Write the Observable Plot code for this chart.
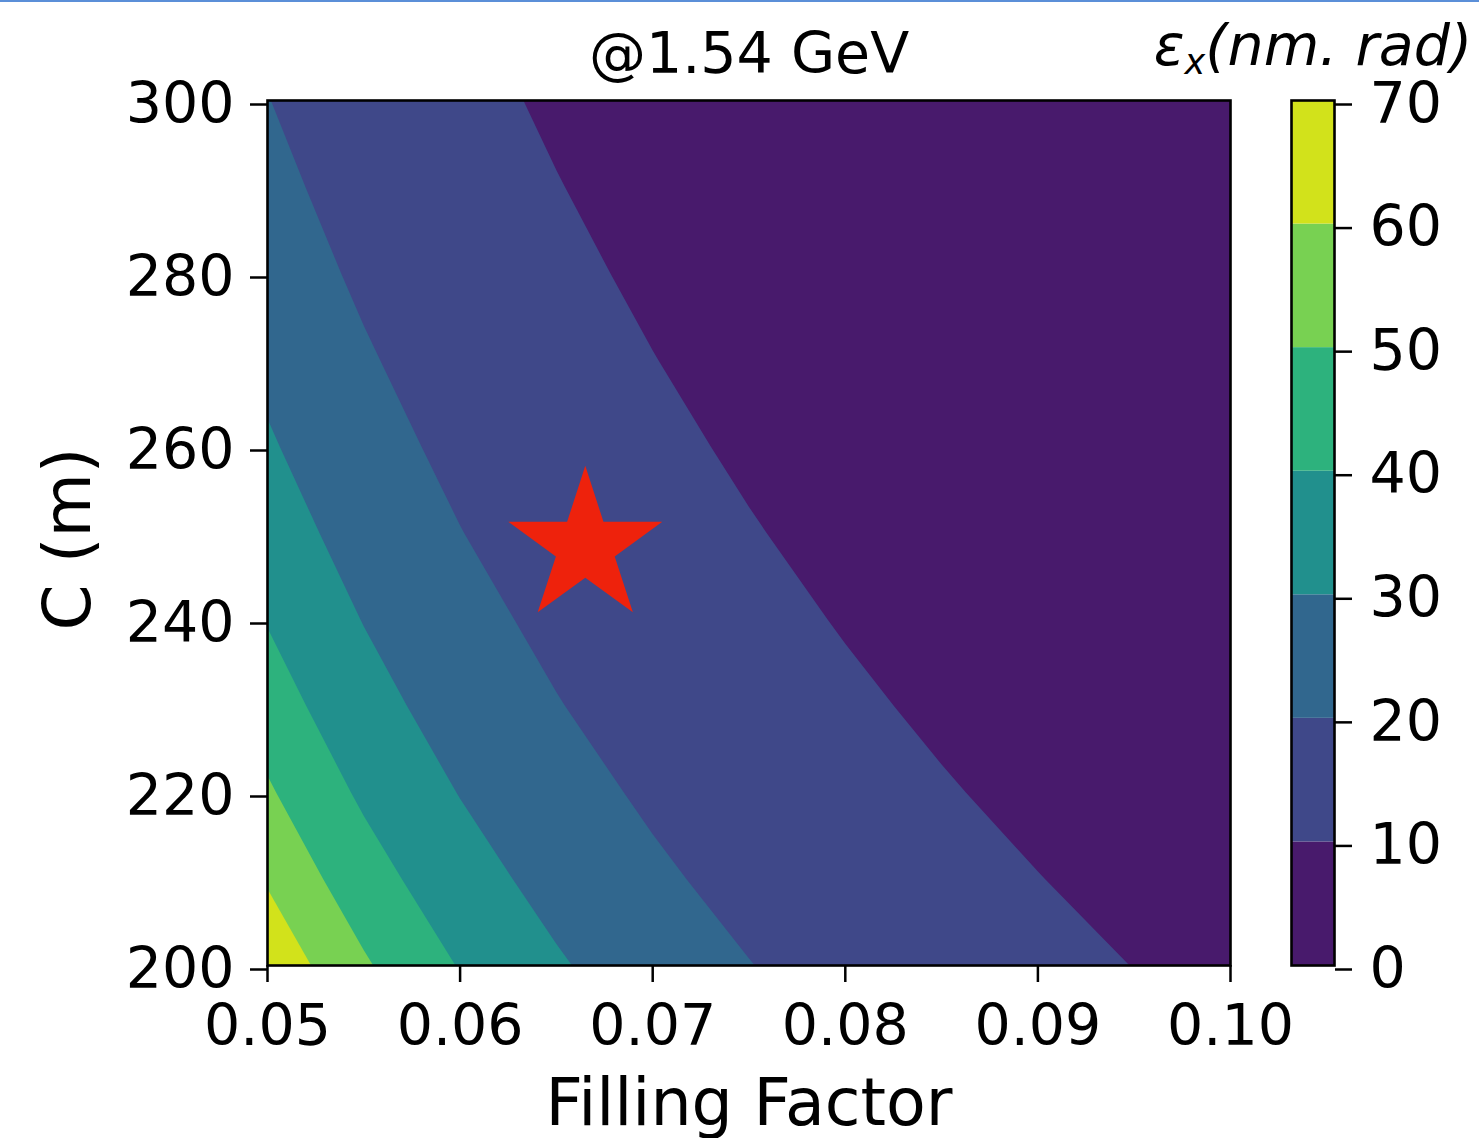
<!DOCTYPE html>
<html>
<head>
<meta charset="utf-8">
<script src="https://cdn.jsdelivr.net/npm/d3@7"></script>
<script src="https://cdn.jsdelivr.net/npm/@observablehq/plot@0.6"></script>
<style>
  html, body { margin: 0; padding: 0; background: #fff; }
  #root { position: relative; width: 1479px; height: 1138px; overflow: hidden; background: #fff; }
  #main { position: absolute; left: 0; top: 0; }
  #cbar { position: absolute; left: 1140px; top: 0; }
  #topline { position: absolute; left: 0; top: 0; width: 1479px; height: 2px; background: #5b8fd8; }
  #cblabel { position: absolute; top: 22px; left: 1313px; transform: translateX(-50%);
             font: italic 57px "DejaVu Sans"; line-height: 46px; white-space: nowrap; color: #000; }
  #cblabel sub { font-size: 35px; line-height: 0; vertical-align: -9px; }
  svg { overflow: visible; }
</style>
</head>
<body>
<div id="root">
  <div id="main"></div>
  <div id="cbar"></div>
  <div id="cblabel">ε<sub>x</sub>(nm. rad)</div>
  <div id="topline"></div>
</div>
<script>
// Filling factor samples (x) and circumference samples (y, metres)
const fillingFactor = [0.050, 0.055, 0.060, 0.065, 0.070, 0.075, 0.080, 0.085, 0.090, 0.095, 0.100];
const circumference = [200, 210, 220, 230, 240, 250, 260, 270, 280, 290, 300];

const emittance = [
  [68.3, 51.3, 39.5, 31.1, 24.9, 20.24, 16.67, 13.90, 11.71, 9.92, 8.54],  // C = 200
  [59.0, 44.3, 34.2, 26.9, 21.5, 17.48, 14.40, 12.01, 10.12, 8.60, 7.38],  // C = 210
  [51.3, 38.5, 29.7, 23.4, 18.7, 15.21, 12.52, 10.44, 8.80, 7.48, 6.42],   // C = 220
  [44.9, 33.7, 26.0, 20.4, 16.37, 13.31, 10.96, 9.14, 7.70, 6.55, 5.62],   // C = 230
  [39.5, 29.7, 22.9, 18.0, 14.40, 11.71, 9.65, 8.04, 6.78, 5.76, 4.94],    // C = 240
  [35.0, 26.3, 20.2, 15.9, 12.74, 10.36, 8.54, 7.12, 6.00, 5.10, 4.37],    // C = 250
  [31.1, 23.4, 18.0, 14.15, 11.33, 9.21, 7.59, 6.33, 5.33, 4.53, 3.89],    // C = 260
  [27.8, 20.9, 16.1, 12.64, 10.12, 8.23, 6.78, 5.65, 4.76, 4.05, 3.47],    // C = 270
  [24.9, 18.7, 14.4, 11.33, 9.07, 7.38, 6.08, 5.07, 4.27, 3.63, 3.11],     // C = 280
  [22.4, 16.8, 13.0, 10.20, 8.16, 6.64, 5.47, 4.56, 3.84, 3.27, 2.80],     // C = 290
  [20.2, 15.2, 11.71, 9.21, 7.37, 6.00, 4.94, 4.12, 3.47, 2.95, 2.53]      // C = 300
];

// Contour levels and their colours (viridis bands)
const levels = [0, 10, 20, 30, 40, 50, 60, 70];
const levelColors = ["#481a6c", "#3f4889", "#31678e", "#21908d", "#2db27d", "#78d152", "#d2e21b"];

// Ticks
const xTicks = [0.05, 0.06, 0.07, 0.08, 0.09, 0.10];
const yTicks = [200, 220, 240, 260, 280, 300];
const cbTicks = [0, 10, 20, 30, 40, 50, 60, 70];

// Chosen design point
const designPoint = [{f: 0.0665, c: 248.4}];

// Texts
const titleText = "@1.54 GeV";
const xLabel = "Filling Factor";
const yLabel = "C (m)";

// ---- build ----
const nx = fillingFactor.length, ny = circumference.length;
const dxs = fillingFactor[1] - fillingFactor[0];
const dys = circumference[1] - circumference[0];
const gridValues = emittance.flat();

// contour on log(emittance) so the grid interpolation follows the smooth iso-lines
const bandLevels = levels.slice(0, -1);
const logThresholds = bandLevels.map(l => (l > 0 ? Math.log(l) : -1e9));

const colorScale = {
  type: "threshold",
  domain: levels.slice(1, -1),
  range: levelColors
};

const main = Plot.plot({
  width: 1240,
  height: 1138,
  marginLeft: 267,
  marginRight: 10,
  marginTop: 100,
  marginBottom: 173,
  style: {fontFamily: "DejaVu Sans", fontSize: "57px", color: "black", background: "transparent"},
  x: {domain: [fillingFactor[0], fillingFactor[nx - 1]]},
  y: {domain: [circumference[0], circumference[ny - 1]]},
  color: colorScale,
  marks: [
    Plot.contour(gridValues, {
      width: nx,
      height: ny,
      x1: fillingFactor[0] - dxs / 2,
      x2: fillingFactor[nx - 1] + dxs / 2,
      y1: circumference[0] - dys / 2,
      y2: circumference[ny - 1] + dys / 2,
      value: d => Math.log(d),
      thresholds: logThresholds,
      fill: c => bandLevels[logThresholds.indexOf(c.value)],
      stroke: "none",
      clip: true
    }),
    Plot.dot(designPoint, {x: "f", y: "c", symbol: "star", r: 48.4, fill: "#ee220c", stroke: "none"}),
    Plot.frame({stroke: "black", strokeWidth: 2.6}),
    Plot.axisX({ticks: xTicks, tickFormat: d3.format(".2f"), tickSize: 17, tickPadding: 22, strokeWidth: 2.5, label: null}),
    Plot.axisY({ticks: yTicks, tickFormat: d3.format("d"), tickSize: 17, tickPadding: 16, dy: 4, strokeWidth: 2.5, label: null}),
    Plot.text([titleText], {text: d => d, frameAnchor: "top", textAnchor: "middle", lineAnchor: "bottom", dy: -28, fontSize: 57}),
    Plot.text([xLabel], {text: d => d, frameAnchor: "bottom", textAnchor: "middle", lineAnchor: "bottom", dy: 159, fontSize: 65}),
    Plot.text([yLabel], {text: d => d, frameAnchor: "left", textAnchor: "middle", lineAnchor: "bottom", rotate: -90, dx: -178, dy: 6, fontSize: 66})
  ]
});
document.getElementById("main").appendChild(main);

const bands = bandLevels.map((lo, i) => ({lo, hi: levels[i + 1]}));
const cbar = Plot.plot({
  width: 339,
  height: 1138,
  marginLeft: 151,
  marginRight: 145,
  marginTop: 100,
  marginBottom: 173,
  style: {fontFamily: "DejaVu Sans", fontSize: "57px", color: "black", background: "transparent"},
  y: {domain: [levels[0], levels[levels.length - 1]]},
  color: colorScale,
  marks: [
    Plot.rect(bands, {y1: "lo", y2: "hi", fill: "lo"}),
    Plot.frame({stroke: "black", strokeWidth: 2.6}),
    Plot.axisY({anchor: "right", ticks: cbTicks, tickFormat: d3.format("d"), tickSize: 17, tickPadding: 18, dy: 4, strokeWidth: 2.5, label: null})
  ]
});
document.getElementById("cbar").appendChild(cbar);
</script>
</body>
</html>
